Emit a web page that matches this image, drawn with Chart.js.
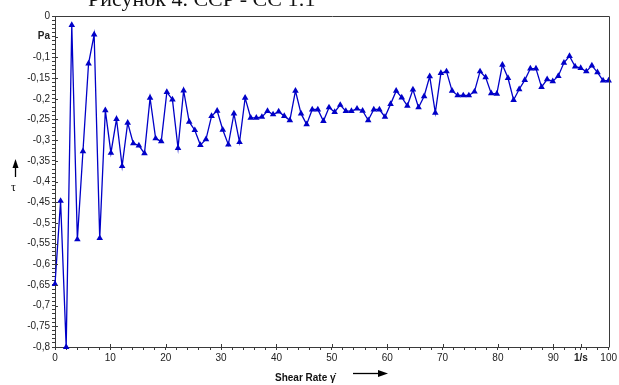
<!DOCTYPE html>
<html>
<head>
<meta charset="utf-8">
<script src="https://cdn.jsdelivr.net/npm/chart.js@4/dist/chart.umd.min.js"></script>
<style>
  html, body { margin: 0; padding: 0; background: #fff; }
  #wrap { position: relative; width: 619px; height: 385px; overflow: hidden; }
  #chart { position: absolute; left: 0; top: 0; }
  .txt { position: absolute; white-space: nowrap; color: #111; }
  #title { left: 88px; top: -12px; font: 22px/22px "Liberation Serif", "Times New Roman", serif; }
  #xlabel { left: 275px; top: 373px; font: bold 10px/10px "Liberation Sans", Arial, sans-serif; }
  #ylabel { left: 11px; top: 181px; font: 12px/12px "Liberation Serif", serif; }
</style>
</head>
<body>
<div id="wrap">
  <canvas id="chart" width="619" height="385"></canvas>
  <div class="txt" id="title">Рисунок 4. CCP - CC 1:1</div>
  <div class="txt" id="xlabel">Shear Rate γ̇</div>
  <div class="txt" id="ylabel">τ</div>
</div>
<script>
const shearRate = [
  0, 1.01, 2.02, 3.03, 4.04, 5.05, 6.06, 7.07, 8.08, 9.09,
  10.1, 11.11, 12.12, 13.13, 14.14, 15.15, 16.16, 17.17, 18.18, 19.19,
  20.2, 21.21, 22.22, 23.23, 24.24, 25.25, 26.26, 27.27, 28.28, 29.29,
  30.3, 31.31, 32.32, 33.33, 34.34, 35.35, 36.36, 37.37, 38.38, 39.39,
  40.4, 41.41, 42.42, 43.43, 44.44, 45.45, 46.46, 47.47, 48.48, 49.49,
  50.51, 51.52, 52.53, 53.54, 54.55, 55.56, 56.57, 57.58, 58.59, 59.6,
  60.61, 61.62, 62.63, 63.64, 64.65, 65.66, 66.67, 67.68, 68.69, 69.7,
  70.71, 71.72, 72.73, 73.74, 74.75, 75.76, 76.77, 77.78, 78.79, 79.8,
  80.81, 81.82, 82.83, 83.84, 84.85, 85.86, 86.87, 87.88, 88.89, 89.9,
  90.91, 91.92, 92.93, 93.94, 94.95, 95.96, 96.97, 97.98, 98.99, 100
];

const tau = [
  -0.648, -0.447, -0.8, -0.022, -0.540, -0.327, -0.115, -0.045, -0.537, -0.228,
  -0.331, -0.249, -0.363, -0.258, -0.308, -0.313, -0.332, -0.198, -0.296, -0.303,
  -0.184, -0.202, -0.319, -0.180, -0.256, -0.276, -0.312, -0.298, -0.242, -0.229,
  -0.275, -0.311, -0.236, -0.305, -0.198, -0.246, -0.246, -0.244, -0.230, -0.238,
  -0.231, -0.242, -0.252, -0.181, -0.236, -0.262, -0.226, -0.226, -0.254, -0.221,
  -0.232, -0.215, -0.230, -0.230, -0.224, -0.229, -0.252, -0.226, -0.226, -0.244,
  -0.213, -0.181, -0.197, -0.217, -0.178, -0.221, -0.194, -0.146, -0.234, -0.138,
  -0.134, -0.181, -0.192, -0.192, -0.192, -0.183, -0.134, -0.148, -0.187, -0.188,
  -0.118, -0.150, -0.203, -0.177, -0.155, -0.127, -0.127, -0.172, -0.153, -0.158,
  -0.145, -0.113, -0.097, -0.122, -0.126, -0.134, -0.120, -0.136, -0.156, -0.156
];

// labelled ticks
const xTickValues = [0, 10, 20, 30, 40, 50, 60, 70, 80, 90, 95, 100];
const xTickLabels = ['0', '10', '20', '30', '40', '50', '60', '70', '80', '90', '1/s', '100'];
const yTickValues = [0, -0.05, -0.1, -0.15, -0.2, -0.25, -0.3, -0.35, -0.4, -0.45, -0.5, -0.55, -0.6, -0.65, -0.7, -0.75, -0.8];
const yTickLabels = ['0', 'Pa', '-0,1', '-0,15', '-0,2', '-0,25', '-0,3', '-0,35', '-0,4', '-0,45', '-0,5', '-0,55', '-0,6', '-0,65', '-0,7', '-0,75', '-0,8'];

const lineColor = '#0000c8';
const axisColor = '#3a3a3a';

// minor ticks: every 2 on x, every 0.01 on y
const xMinor = [];
for (let v = 0; v <= 100; v += 2) xMinor.push(v);
const yMinor = [];
for (let k = 0; k <= 80; k++) yMinor.push(-k / 100);

function findMajor(values, v) {
    return values.findIndex(m => Math.abs(m - v) < 1e-6);
}

const boxPlugin = {
    id: 'box',
    afterDraw(chart) {
        const ctx = chart.ctx;
        const a = chart.chartArea;
        ctx.save();
        ctx.strokeStyle = axisColor;
        ctx.lineWidth = 1;
        // top and right border
        ctx.beginPath();
        ctx.moveTo(Math.round(a.left) + 0.5, Math.round(a.top) + 0.5);
        ctx.lineTo(Math.round(a.right) + 0.5, Math.round(a.top) + 0.5);
        ctx.lineTo(Math.round(a.right) + 0.5, Math.round(a.bottom) + 0.5);
        ctx.stroke();
        // major ticks reaching into the plot
        const xs = chart.scales.x, ys = chart.scales.y;
        ctx.beginPath();
        xTickValues.forEach(v => {
            const px = Math.round(xs.getPixelForValue(v)) + 0.5;
            ctx.moveTo(px, a.bottom);
            ctx.lineTo(px, a.bottom - 3);
        });
        yTickValues.forEach(v => {
            const py = Math.round(ys.getPixelForValue(v)) + 0.5;
            ctx.moveTo(a.left, py);
            ctx.lineTo(a.left + 3, py);
        });
        ctx.stroke();

        // axis arrows
        ctx.fillStyle = '#000';
        ctx.strokeStyle = '#000';
        ctx.lineWidth = 1.3;
        ctx.beginPath();
        ctx.moveTo(353, 373.5);
        ctx.lineTo(380, 373.5);
        ctx.stroke();
        ctx.beginPath();
        ctx.moveTo(388, 373.5);
        ctx.lineTo(378, 370);
        ctx.lineTo(378, 377);
        ctx.closePath();
        ctx.fill();

        ctx.beginPath();
        ctx.moveTo(15.5, 177);
        ctx.lineTo(15.5, 166);
        ctx.stroke();
        ctx.beginPath();
        ctx.moveTo(15.5, 159);
        ctx.lineTo(12.5, 168);
        ctx.lineTo(18.5, 168);
        ctx.closePath();
        ctx.fill();
        ctx.restore();
    }
};

new Chart(document.getElementById('chart'), {
    type: 'line',
    data: {
        datasets: [{
            label: 'tau',
            data: shearRate.map((x, i) => ({ x: x, y: tau[i] })),
            borderColor: lineColor,
            backgroundColor: lineColor,
            borderWidth: 1.3,
            pointStyle: 'triangle',
            pointRadius: 3.8,
            pointBorderWidth: 0,
            pointBackgroundColor: lineColor,
            tension: 0,
            clip: false,
        }],
    },
    options: {
        responsive: false,
        animation: false,
        events: [],
        layout: { padding: { top: 16, right: 5, left: 0, bottom: 0 } },
        plugins: {
            legend: { display: false },
            tooltip: { enabled: false },
        },
        scales: {
            x: {
                type: 'linear',
                min: 0,
                max: 100,
                afterBuildTicks: s => { s.ticks = xMinor.concat([95]).sort((a, b) => a - b).map(v => ({ value: v })); },
                afterFit: s => { s.height = 38; },
                border: { display: true, color: axisColor, width: 1 },
                grid: { drawOnChartArea: false, drawTicks: true, tickLength: 3, tickColor: axisColor },
                ticks: {
                    autoSkip: false,
                    maxRotation: 0,
                    padding: 2,
                    color: '#222',
                    font: c => ({ family: '"Liberation Sans", Arial, sans-serif', size: 10, weight: (c.tick && c.tick.value === 95) ? 'bold' : 'normal' }),
                    callback: v => {
                        const i = findMajor(xTickValues, v);
                        return i >= 0 ? xTickLabels[i] : '';
                    },
                },
            },
            y: {
                min: -0.8,
                max: 0,
                afterBuildTicks: s => { s.ticks = yMinor.map(v => ({ value: v })); },
                afterFit: s => { s.width = 55; },
                border: { display: true, color: axisColor, width: 1 },
                grid: { drawOnChartArea: false, drawTicks: true, tickLength: 3, tickColor: axisColor },
                ticks: {
                    autoSkip: false,
                    padding: 2,
                    color: '#222',
                    font: c => ({ family: '"Liberation Sans", Arial, sans-serif', size: 10, weight: (c.tick && Math.abs(c.tick.value + 0.05) < 1e-6) ? 'bold' : 'normal' }),
                    callback: v => {
                        const i = findMajor(yTickValues, v);
                        return i >= 0 ? yTickLabels[i] : '';
                    },
                },
            },
        },
    },
    plugins: [boxPlugin],
});
</script>
</body>
</html>
